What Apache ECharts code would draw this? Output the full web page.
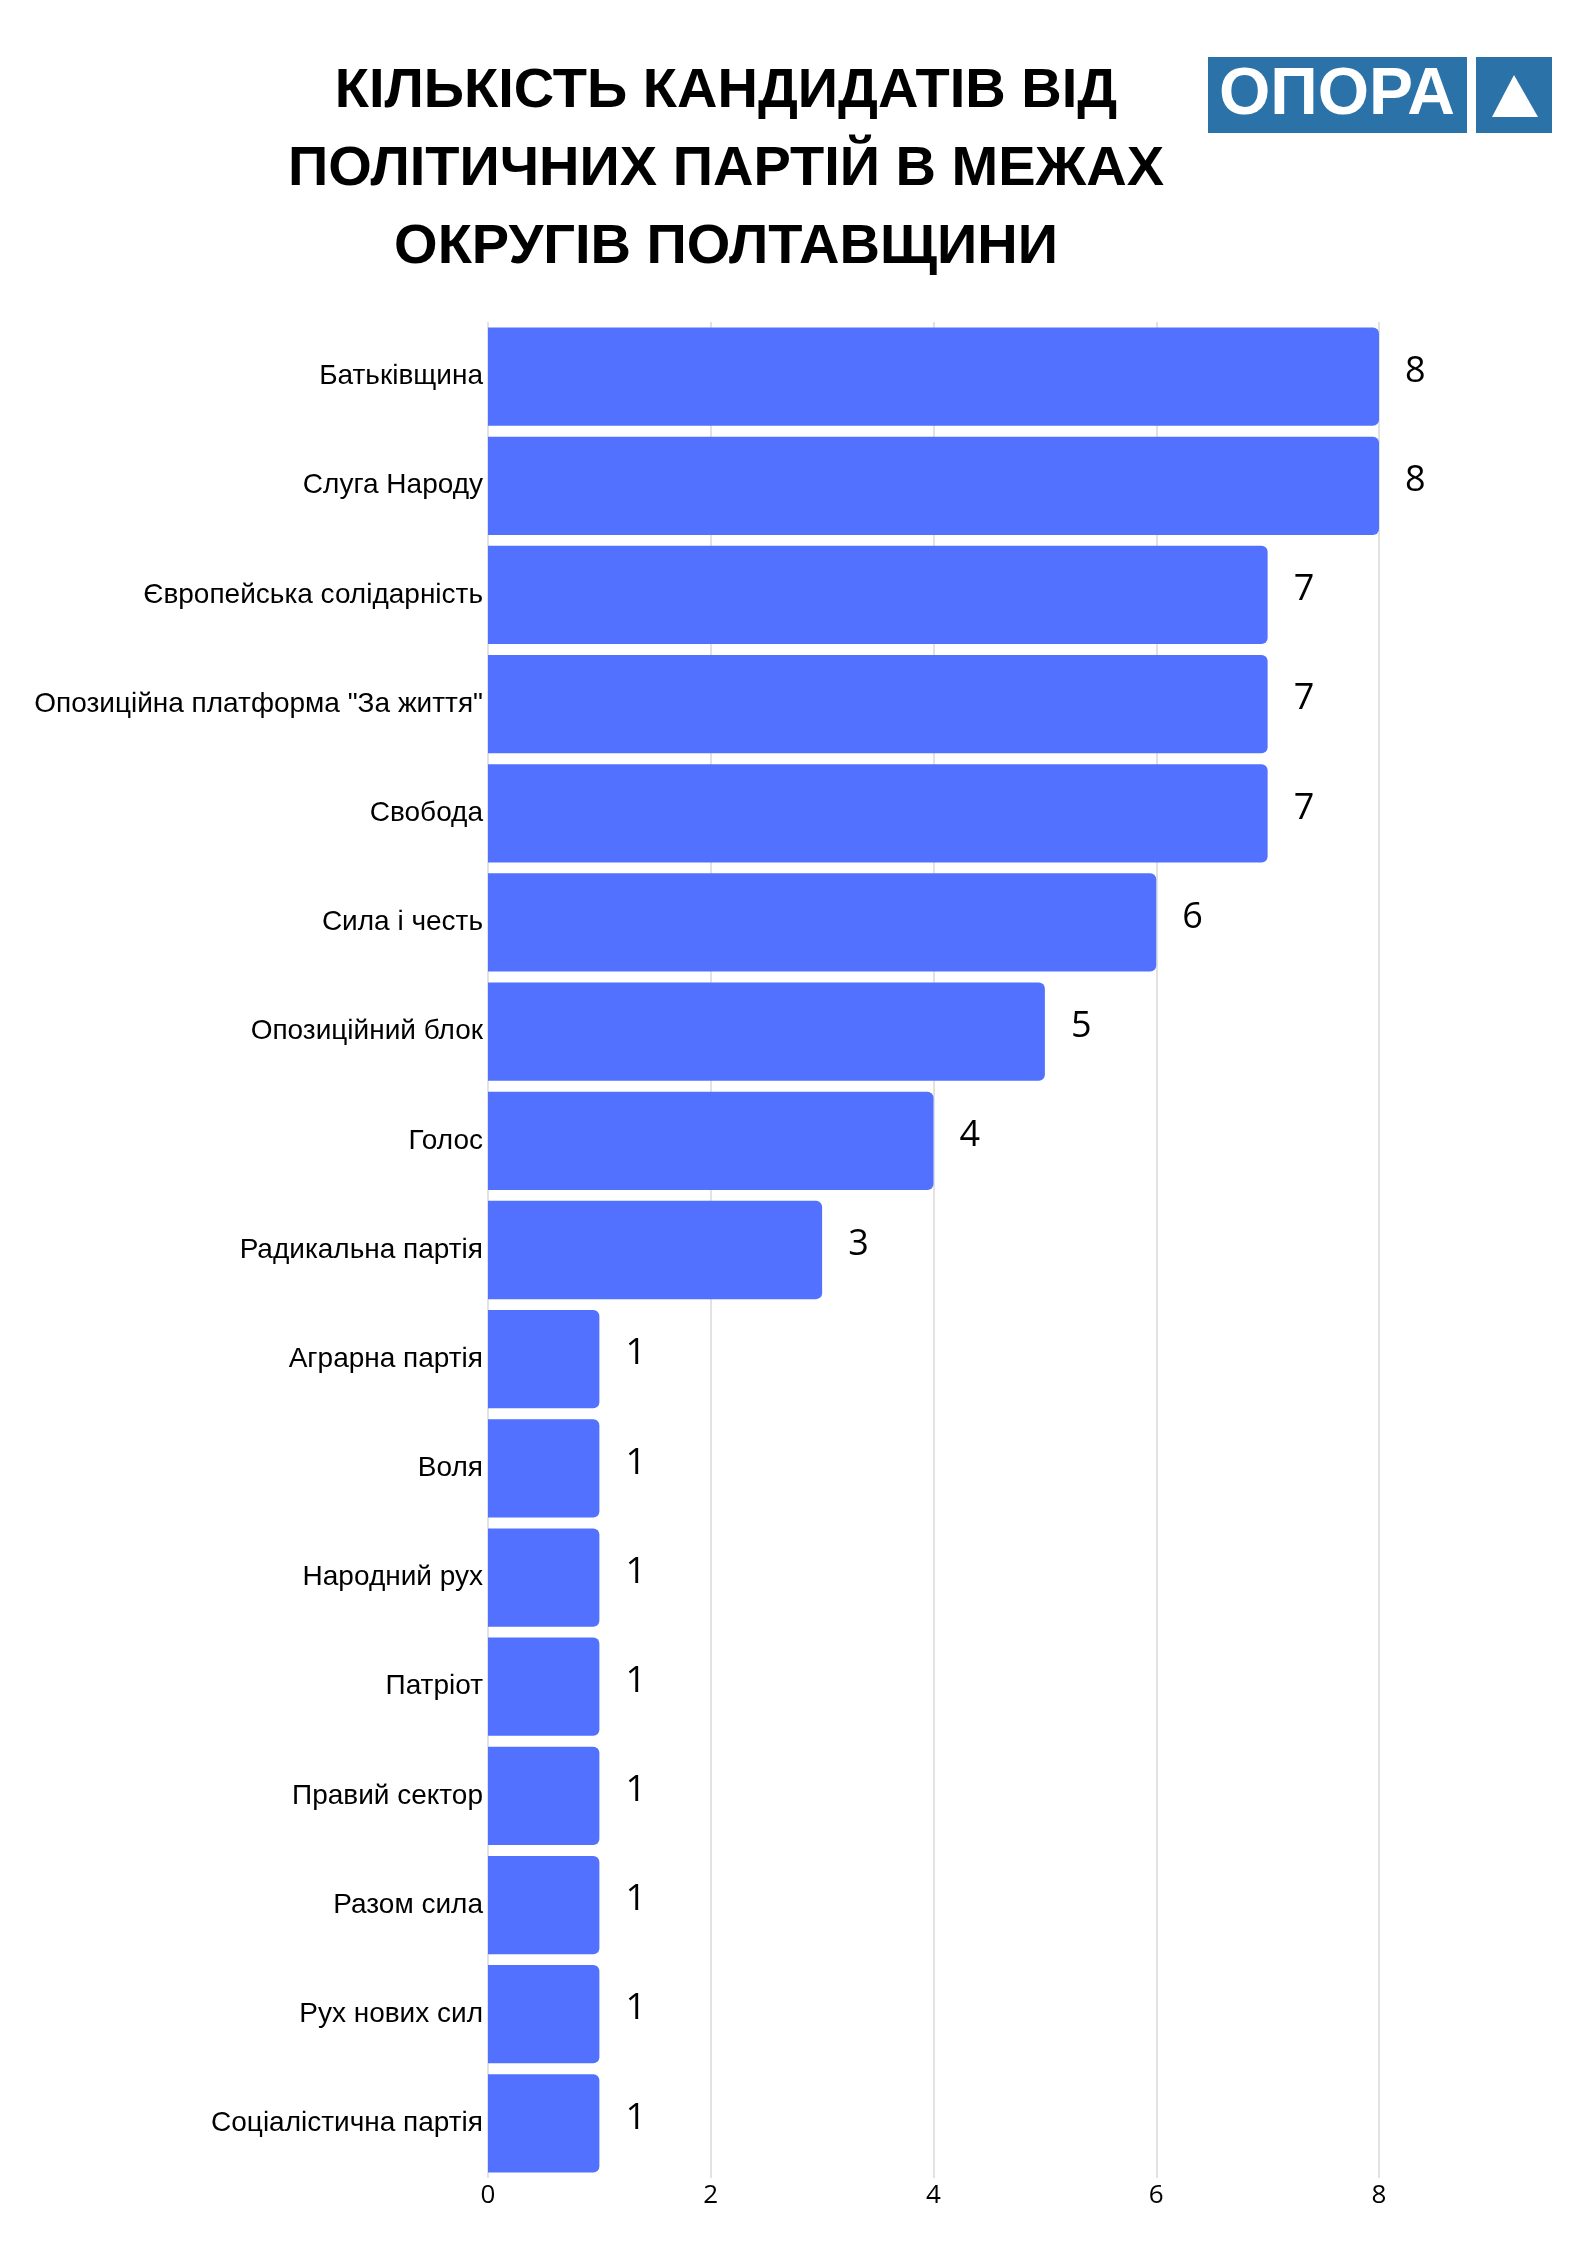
<!DOCTYPE html>
<html>
<head>
<meta charset="utf-8">
<script src="https://cdn.jsdelivr.net/npm/echarts@6/dist/echarts.min.js"></script>
<style>
  html, body { margin: 0; padding: 0; background: #fff; }
  #chart { width: 1588px; height: 2246px; }
</style>
</head>
<body>
<div id="chart"></div>
<script>
// parties, top to bottom
const parties = [
  'Батьківщина',
  'Слуга Народу',
  'Європейська солідарність',
  'Опозиційна платформа "За життя"',
  'Свобода',
  'Сила і честь',
  'Опозиційний блок',
  'Голос',
  'Радикальна партія',
  'Аграрна партія',
  'Воля',
  'Народний рух',
  'Патріот',
  'Правий сектор',
  'Разом сила',
  'Рух нових сил',
  'Соціалістична партія'
];
const candidates = [8, 8, 7, 7, 7, 6, 5, 4, 3, 1, 1, 1, 1, 1, 1, 1, 1];
const xTicks = [0, 2, 4, 6, 8];

const titleLines = [
  'КІЛЬКІСТЬ КАНДИДАТІВ ВІД',
  'ПОЛІТИЧНИХ ПАРТІЙ В МЕЖАХ',
  'ОКРУГІВ ПОЛТАВЩИНИ'
];

const logoBlue = '#2b72a8';

const chart = echarts.init(document.getElementById('chart'));

const titleGraphics = titleLines.map((t, i) => ({
  type: 'text',
  style: {
    text: t,
    x: 726,
    y: 92 + i * 78,
    align: 'center',
    verticalAlign: 'middle',
    font: 'bold 56px "Liberation Sans", Arial, sans-serif',
    fill: '#000'
  }
}));

chart.setOption({
  backgroundColor: '#fff',
  animation: false,
  grid: { left: 488, right: 209, top: 322, bottom: 68, containLabel: false },
  xAxis: {
    type: 'value',
    min: xTicks[0],
    max: xTicks[xTicks.length - 1],
    interval: xTicks[1] - xTicks[0],
    axisLine: { show: false },
    axisTick: { show: false },
    splitLine: { lineStyle: { color: '#d9d9d9', width: 1.5 } },
    axisLabel: {
      color: '#000',
      fontSize: 26,
      fontFamily: '"Open Sans", sans-serif',
      margin: 5
    }
  },
  yAxis: {
    type: 'category',
    data: parties,
    inverse: true,
    axisLine: { show: false },
    axisTick: { show: false },
    axisLabel: {
      color: '#000',
      fontSize: 28,
      fontFamily: '"Liberation Sans", Arial, sans-serif',
      margin: 5
    }
  },
  series: [{
    type: 'bar',
    data: candidates,
    barCategoryGap: '10%',
    itemStyle: { color: '#5271ff', borderRadius: [0, 6, 6, 0] },
    label: {
      show: true,
      position: 'right',
      distance: 26,
      offset: [0, -5],
      color: '#000',
      fontSize: 36,
      fontFamily: '"Open Sans", sans-serif'
    }
  }],
  graphic: [
    ...titleGraphics,
    { type: 'rect', shape: { x: 1208, y: 57, width: 259, height: 76 }, style: { fill: logoBlue } },
    { type: 'rect', shape: { x: 1476, y: 57, width: 76, height: 76 }, style: { fill: logoBlue } },
    {
      type: 'text',
      style: {
        text: 'ОПОРА', x: 1337, y: 96, align: 'center', verticalAlign: 'middle',
        font: 'bold 66px "Liberation Sans", Arial, sans-serif', fill: '#fff'
      }
    },
    { type: 'polygon', shape: { points: [[1514, 75], [1538, 117], [1492, 117]] }, style: { fill: '#fff' } }
  ]
});
</script>
</body>
</html>
